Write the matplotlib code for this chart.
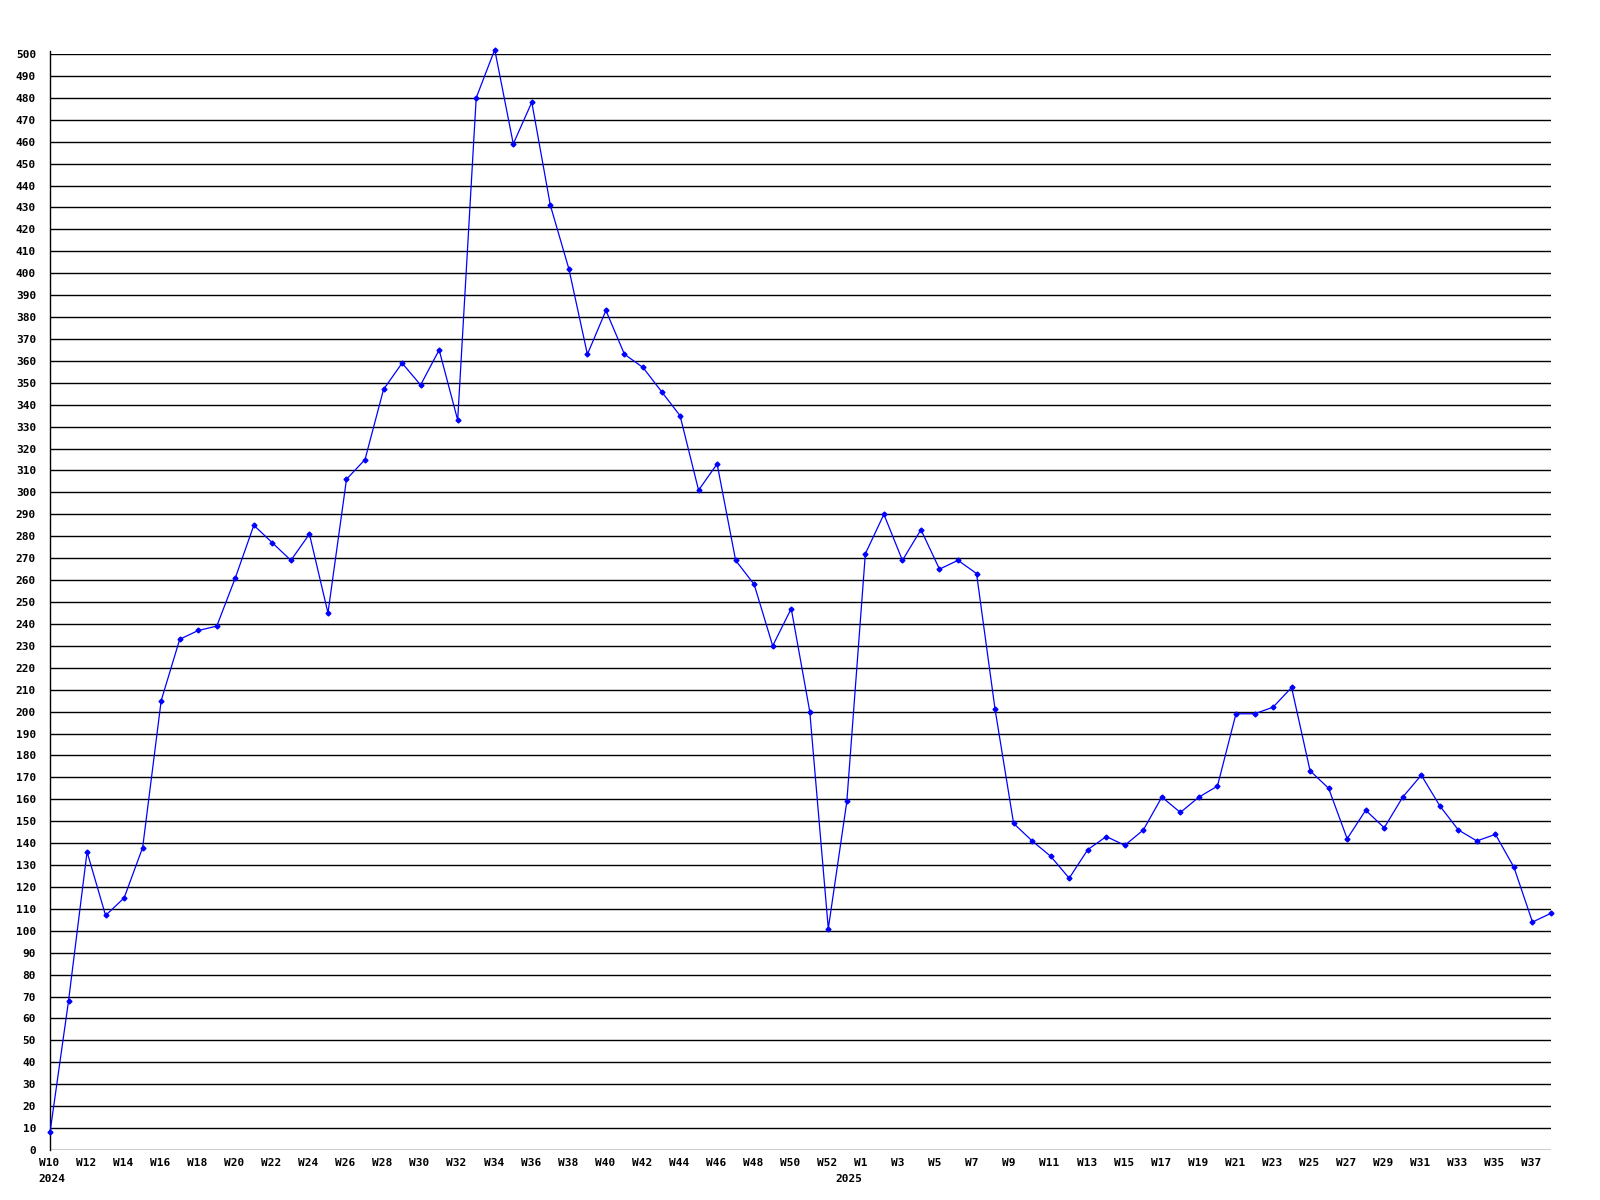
import matplotlib
matplotlib.use("Agg")
import matplotlib.pyplot as plt
from matplotlib.transforms import ScaledTranslation

weeks_2024 = [f"W{w}" for w in range(10, 54)]
weeks_2025 = [f"W{w}" for w in range(1, 39)]
weeks = weeks_2024 + weeks_2025

values = [8, 68, 136, 107, 115, 138, 205, 233, 237, 239,
          261, 285, 277, 269, 281, 245, 306, 315, 347, 359,
          349, 365, 333, 480, 502, 459, 478, 431, 402, 363,
          383, 363, 357, 346, 335, 301, 313, 269, 258, 230,
          247, 200, 101, 159,
          272, 290, 269, 283, 265, 269, 263, 201, 149, 141,
          134, 124, 137, 143, 139, 146, 161, 154, 161, 166,
          199, 199, 202, 211, 173, 165, 142, 155, 147, 161,
          171, 157, 146, 141, 144, 129, 104, 108]

tick_labels = [f"W{w}" for w in range(10, 53, 2)] + [f"W{w}" for w in range(1, 38, 2)]
year_labels = ["2024", "2025"]
year_label_weeks = ["W10", "W53"]

font = {"family": "DejaVu Sans Mono", "weight": "bold", "size": 8}

fig = plt.figure(figsize=(16, 12), dpi=100)
ax = fig.add_axes([50/1600, 1 - 1150/1200, (1551 - 50)/1600, (1150 - 54)/1200])

x = list(range(len(values)))
ax.set_xlim(0, len(values) - 1)
ax.set_ylim(0, 500)

for v in range(0, 501, 10):
    ax.axhline(v, color="black", lw=1.0, zorder=1)

ax.plot(x, values, color="#0000ff", lw=0.9, marker="D", ms=2.5,
        mec="#0000ff", mfc="#0000ff", clip_on=False, zorder=3)

for s in ["top", "right", "bottom"]:
    ax.spines[s].set_visible(False)
ax.spines["left"].set_color("black")
ax.spines["left"].set_linewidth(1.0)
ax.spines["left"].set_bounds(0, 501.5)

ax.set_yticks(range(0, 501, 10))
ax.set_yticklabels([str(v) for v in range(0, 501, 10)], fontdict=font)
ax.tick_params(axis="y", length=0, pad=10)

tick_pos = [weeks.index(lbl) if i < 22 else weeks.index(lbl, 44) for i, lbl in enumerate(tick_labels)]
ax.set_xticks(tick_pos)
ax.set_xticklabels(tick_labels, fontdict=font)
ax.tick_params(axis="x", length=0, pad=6)
shift = ScaledTranslation(-0.112, 0, fig.dpi_scale_trans)
for t in ax.get_xticklabels():
    t.set_ha("left")
    t.set_transform(t.get_transform() + shift)

for lbl, wk in zip(year_labels, year_label_weeks):
    xi = weeks.index(wk)
    ax.annotate(lbl, xy=(xi, 0), xycoords="data", xytext=(-8.1, -17),
                textcoords="offset points", ha="left", va="top", **font)

fig.savefig("out.png", dpi=100, facecolor="white")
